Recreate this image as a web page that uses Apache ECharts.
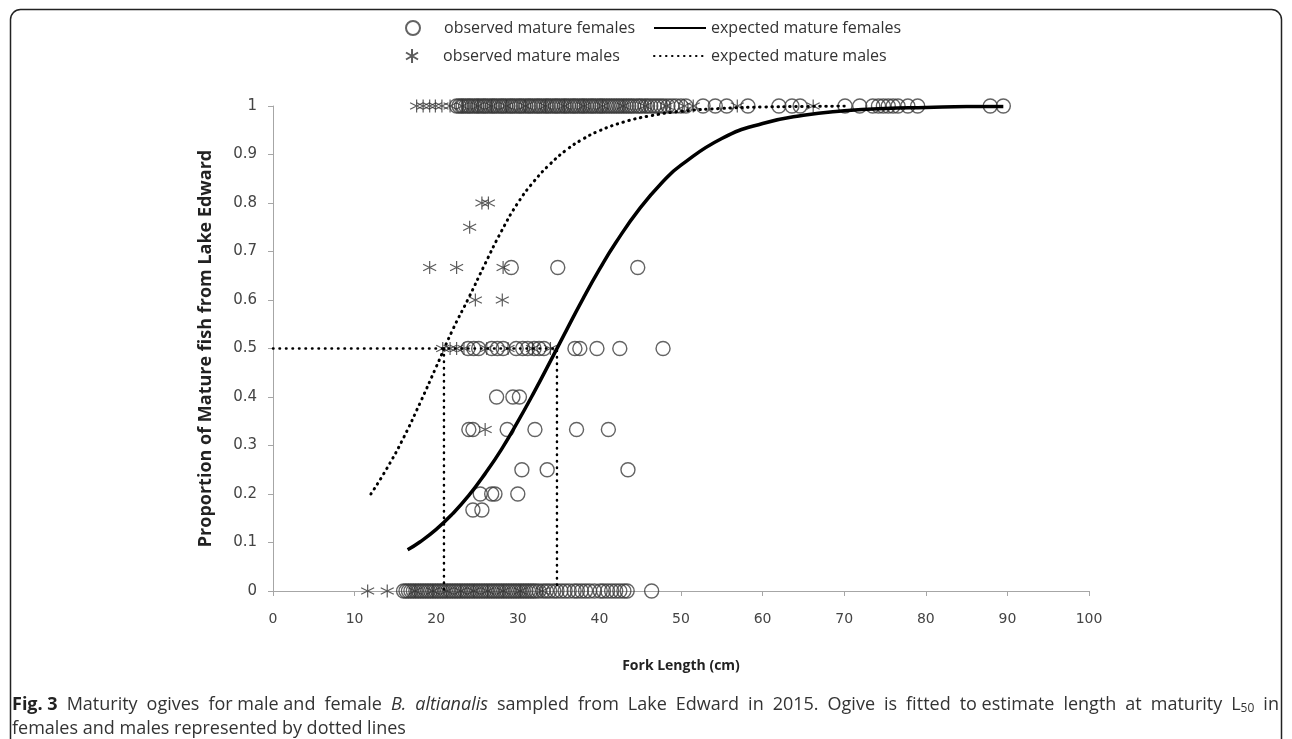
<!DOCTYPE html>
<html>
<head>
<meta charset="utf-8">
<script src="https://cdn.jsdelivr.net/npm/echarts@6/dist/echarts.min.js"></script>
<style>
  html, body { margin: 0; padding: 0; background: #fff; }
  #main { width: 1292px; height: 739px; }
</style>
</head>
<body>
<div id="main"></div>
<script>
// observed females, proportion = 1
var femOneX = [22.5, 22.8, 23.1, 23.3, 23.6, 23.9, 24.1, 24.4, 24.7, 25.0, 25.2, 25.5, 25.8, 26.0, 26.3,
  26.6, 26.9, 27.1, 27.4, 27.7, 28.0, 28.2, 28.5, 28.8, 29.1, 29.3, 29.6, 29.9, 30.2, 30.4, 30.7, 31.0,
  31.3, 31.5, 31.8, 32.1, 32.4, 32.6, 32.9, 33.2, 33.5, 33.7, 34.0, 34.3, 34.6, 34.8, 35.1, 35.4, 35.7,
  35.9, 36.2, 36.5, 36.8, 37.0, 37.3, 37.6, 37.9, 38.1, 38.4, 38.7, 39.0, 39.2, 39.5, 39.8, 40.1, 40.3,
  40.6, 40.9, 41.2, 41.5, 41.8, 42.1, 42.4, 42.7, 43.0, 43.3, 43.6, 43.9, 44.2, 44.6, 44.9, 45.2, 45.6,
  45.9, 46.3, 46.7, 47.1, 47.5, 47.9, 48.4, 48.9, 49.4, 50.0, 50.6, 52.7, 54.2, 55.6, 58.2, 62.0, 63.6,
  64.6, 70.1, 71.9, 73.5, 74.2, 74.8, 75.4, 76.0, 76.6, 77.8, 79.0, 87.9, 89.5];
// observed females, proportion = 0
var femZeroX = [16.0, 16.3, 16.6, 16.9, 17.2, 17.5, 17.8, 18.1, 18.4, 18.7, 19.0, 19.3, 19.6, 19.9, 20.2,
  20.5, 20.8, 21.1, 21.4, 21.7, 22.0, 22.3, 22.6, 22.9, 23.2, 23.5, 23.8, 24.1, 24.4, 24.7, 25.0, 25.3,
  25.6, 25.9, 26.2, 26.5, 26.8, 27.1, 27.4, 27.7, 28.0, 28.3, 28.6, 28.9, 29.2, 29.5, 29.8, 30.1, 30.4,
  30.7, 31.0, 31.3, 31.6, 31.9, 32.2, 32.6, 33.1, 33.5, 33.9, 34.4, 34.8, 35.3, 35.8, 36.3, 36.9, 37.3,
  37.8, 38.3, 38.8, 39.4, 40.1, 40.5, 41.0, 41.5, 42.0, 42.5, 43.0, 43.4, 46.4];
// observed females, in-between proportions [length, proportion]
var femMid = [
  [23.9, 0.5], [24.6, 0.5], [25.2, 0.5], [26.8, 0.5], [27.5, 0.5], [28.2, 0.5], [29.8, 0.5], [30.6, 0.5],
  [31.2, 0.5], [32.0, 0.5], [32.6, 0.5], [33.2, 0.5], [37.0, 0.5], [37.6, 0.5], [39.7, 0.5], [42.5, 0.5],
  [47.8, 0.5],
  [29.2, 0.667], [34.9, 0.667], [44.7, 0.667],
  [27.4, 0.4], [29.4, 0.4], [30.2, 0.4],
  [24.0, 0.333], [24.5, 0.333], [28.7, 0.333], [32.1, 0.333], [37.2, 0.333], [41.1, 0.333],
  [30.5, 0.25], [33.6, 0.25], [43.5, 0.25],
  [25.4, 0.2], [26.8, 0.2], [27.2, 0.2], [30.0, 0.2],
  [24.5, 0.167], [25.6, 0.167]
];

// observed males
var maleOneX = [17.6, 18.4, 19.2, 19.9, 20.7, 21.7, 23.2, 25.1, 26.8, 28.6, 30.9, 33.4, 35.7, 38.1, 40.4,
  42.9, 45.6, 48.2, 50.4, 51.5, 56.9, 66.2];
var maleZeroX = [11.6, 14.0, 17.4, 19.6, 21.3, 23.0, 24.6, 26.3, 28.2, 30.3, 33.0];
var maleMid = [
  [20.8, 0.5], [21.7, 0.5], [22.5, 0.5], [23.4, 0.5], [26.2, 0.5], [28.8, 0.5], [31.8, 0.5], [34.0, 0.5],
  [19.2, 0.667], [22.5, 0.667], [28.2, 0.667],
  [24.8, 0.6], [28.1, 0.6],
  [24.1, 0.75],
  [25.6, 0.8], [26.4, 0.8],
  [26.0, 0.333]
];

// expected (fitted ogive) curves
var femCurveX = [16.5, 18, 20, 22, 24, 26, 28, 30, 32, 34, 36, 38, 40, 42, 45, 48, 50, 55, 60, 65, 70, 75, 80, 85, 89.5];
var femCurveY = [0.085, 0.101, 0.127, 0.159, 0.197, 0.242, 0.292, 0.349, 0.410, 0.474, 0.539, 0.603, 0.663,
  0.718, 0.790, 0.848, 0.878, 0.933, 0.964, 0.981, 0.990, 0.995, 0.997, 0.999, 0.999];
var maleCurveX = [12, 14, 16, 18, 20, 22, 24, 26, 28, 30, 32, 34, 36, 38, 40, 43, 46, 50, 55, 60, 65, 70];
var maleCurveY = [0.200, 0.254, 0.316, 0.387, 0.462, 0.538, 0.605, 0.675, 0.742, 0.800, 0.845, 0.881, 0.910,
  0.932, 0.949, 0.967, 0.979, 0.989, 0.995, 0.998, 0.999, 1.0];

// length at 50% maturity
var l50Male = 20.95;
var l50Female = 34.8;

var xTicks = [0, 100, 10];
var yTicks = [0, 1, 0.1];

var starPath = 'path://M50,0L50,100M7,25L93,75M7,75L93,25';
var circleColor = '#3c3c3c';
var starColor = '#333';

function pairs(xs, y) {
  return xs.map(function (x) { return [x, y]; });
}
function zip(xs, ys) {
  return xs.map(function (x, i) { return [x, ys[i]]; });
}

var femObs = pairs(femZeroX, 0).concat(femMid, pairs(femOneX, 1));
var maleObs = pairs(maleZeroX, 0).concat(maleMid, pairs(maleOneX, 1));

var chart = echarts.init(document.getElementById('main'));

var legendText = { fontFamily: 'Open Sans', fontSize: 16, color: '#333' };
var noDot = { color: 'rgba(0,0,0,0)', borderWidth: 0 };

// caption: en spaces widen the first line like the justified original
var sp = '\u2002';
var cap1 = ['{b|Fig. 3}', 'Maturity', 'ogives', 'for male and', 'female', '{i|B.' + sp + 'altianalis}',
  'sampled', 'from', 'Lake', 'Edward', 'in', '2015.', 'Ogive', 'is', 'fitted', 'to estimate', 'length',
  'at', 'maturity', 'L{s|50}', 'in'].join(sp);

chart.setOption({
  animation: false,
  backgroundColor: '#fff',
  grid: { left: 273, right: 203, top: 106, bottom: 148 },
  legend: [
    { data: ['observed mature females'], left: 405, top: 20, padding: 0, itemWidth: 14, itemHeight: 14,
      textStyle: Object.assign({ padding: [0, 0, 0, 19] }, legendText) },
    { data: ['observed mature males'], left: 405, top: 48, padding: 0, itemWidth: 14, itemHeight: 14,
      textStyle: Object.assign({ padding: [0, 0, 0, 19] }, legendText) },
    { data: ['expected mature females'], left: 653, top: 20, padding: 0, itemWidth: 52, itemHeight: 14,
      itemStyle: noDot, textStyle: legendText },
    { data: ['expected mature males'], left: 653, top: 48, padding: 0, itemWidth: 52, itemHeight: 14,
      itemStyle: noDot, textStyle: legendText }
  ],
  xAxis: {
    type: 'value',
    min: xTicks[0], max: xTicks[1], interval: xTicks[2],
    name: 'Fork Length (cm)',
    nameLocation: 'middle',
    nameGap: 68,
    nameTextStyle: { fontFamily: 'Open Sans', fontWeight: 'bold', fontSize: 14, color: '#222' },
    axisLine: { lineStyle: { color: '#a6a6a6', width: 1 } },
    axisTick: { show: true, length: 5, lineStyle: { color: '#a6a6a6' } },
    axisLabel: { margin: 21, fontFamily: 'DejaVu Sans', fontSize: 14, color: '#444' },
    splitLine: { show: false }
  },
  yAxis: {
    type: 'value',
    min: yTicks[0], max: yTicks[1], interval: yTicks[2],
    name: 'Proportion of Mature fish from Lake Edward',
    nameLocation: 'middle',
    nameGap: 58,
    nameTextStyle: { fontFamily: 'Open Sans', fontWeight: 'bold', fontSize: 18, color: '#222' },
    axisLine: { show: true, lineStyle: { color: '#a6a6a6', width: 1 } },
    axisTick: { show: true, length: 5, lineStyle: { color: '#a6a6a6' } },
    axisLabel: { margin: 16, fontFamily: 'DejaVu Sans', fontSize: 15, color: '#444' },
    splitLine: { show: false }
  },
  series: [
    {
      name: 'observed mature females',
      type: 'scatter',
      symbol: 'circle',
      symbolSize: 14,
      itemStyle: { color: 'rgba(0,0,0,0)', borderColor: circleColor, borderWidth: 1.4 },
      data: femObs
    },
    {
      name: 'observed mature males',
      type: 'scatter',
      symbol: starPath,
      symbolSize: 13,
      itemStyle: { color: 'rgba(0,0,0,0)', borderColor: starColor, borderWidth: 1.2 },
      data: maleObs
    },
    {
      name: 'expected mature females',
      type: 'line',
      smooth: true,
      symbol: 'none',
      lineStyle: { color: '#000', width: 3.5 },
      data: zip(femCurveX, femCurveY)
    },
    {
      name: 'expected mature males',
      type: 'line',
      smooth: true,
      symbol: 'none',
      lineStyle: { color: '#000', width: 3, type: [0.5, 5.5], cap: 'round' },
      data: zip(maleCurveX, maleCurveY)
    },
    {
      name: 'L50 female',
      type: 'line',
      symbol: 'none',
      lineStyle: { color: '#000', width: 2.5, type: [0.5, 6], cap: 'round' },
      data: [[0, 0.5], [l50Female, 0.5], [l50Female, 0]]
    },
    {
      name: 'L50 male',
      type: 'line',
      symbol: 'none',
      lineStyle: { color: '#000', width: 2.5, type: [0.5, 6], cap: 'round' },
      data: [[l50Male, 0.5], [l50Male, 0]]
    }
  ],
  graphic: [
    {
      type: 'rect',
      shape: { x: 10.5, y: 9.5, width: 1271, height: 800, r: 10 },
      style: { fill: 'none', stroke: '#222', lineWidth: 1.5 },
      silent: true
    },
    {
      type: 'text',
      left: 12, top: 696,
      style: {
        text: cap1,
        font: '18px "Open Sans"',
        fill: '#333',
        rich: {
          b: { fontWeight: 'bold', fontSize: 18, fontFamily: 'Open Sans', fill: '#222' },
          i: { fontStyle: 'italic', fontSize: 18, fontFamily: 'Open Sans' },
          s: { fontSize: 12, fontFamily: 'Open Sans', verticalAlign: 'bottom', padding: [7, 0, 0, 0] }
        }
      }
    },
    {
      type: 'text',
      left: 12, top: 720,
      style: {
        text: 'females and males represented by dotted lines',
        font: '18px "Open Sans"',
        fill: '#333'
      }
    }
  ]
});
</script>
</body>
</html>
